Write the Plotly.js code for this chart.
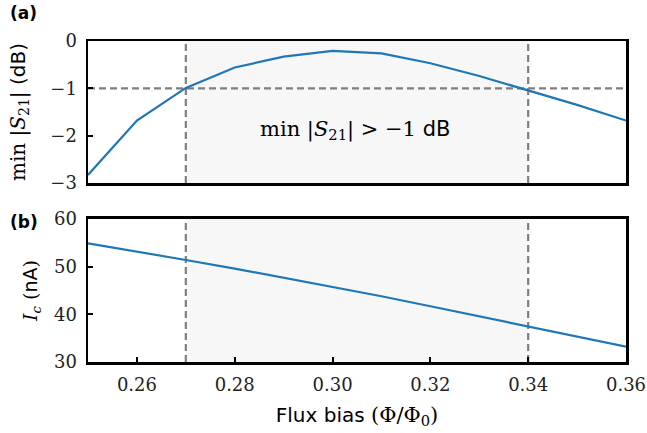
<!DOCTYPE html>
<html>
<head>
<meta charset="utf-8">
<script src="https://cdn.plot.ly/plotly-3.0.1.min.js"></script>
<style>html,body{margin:0;padding:0;background:#fff;}</style>
</head>
<body>
<div id="chart" style="width:647px;height:433px;"></div>
<script>
// Data
const fluxBias = [0.25, 0.26, 0.27, 0.28, 0.29, 0.30, 0.31, 0.32, 0.33, 0.34, 0.35, 0.36];
const minS21dB = [-2.83, -1.68, -0.99, -0.56, -0.33, -0.21, -0.26, -0.47, -0.74, -1.04, -1.35, -1.68];
const criticalCurrent = [54.9, 53.2, 51.4, 49.6, 47.7, 45.8, 43.8, 41.7, 39.6, 37.4, 35.3, 33.2];
const bandLimits = [0.27, 0.34];
const thresholdDB = -1;
const xTicks = [0.26, 0.28, 0.30, 0.32, 0.34, 0.36];
const xTickText = ['0.26', '0.28', '0.30', '0.32', '0.34', '0.36'];
const yTicksTop = [0, -1, -2, -3];
const yTicksBottom = [30, 40, 50, 60];

const SERIF = 'DejaVu Serif';
const SANS = 'DejaVu Sans';
const blue = '#1f77b4';
const dashGray = '#7f7f7f';

const traces = [
  {x: fluxBias, y: minS21dB, xaxis: 'x', yaxis: 'y', mode: 'lines',
   line: {color: blue, width: 2.2}, hoverinfo: 'skip'},
  {x: fluxBias, y: criticalCurrent, xaxis: 'x2', yaxis: 'y2', mode: 'lines',
   line: {color: blue, width: 2.2}, hoverinfo: 'skip'}
];

const dash = {color: dashGray, width: 2.2, dash: '7px,4px'};
const shapes = [
  {type: 'rect', xref: 'x', yref: 'y domain', x0: bandLimits[0], x1: bandLimits[1], y0: 0, y1: 1,
   fillcolor: '#f7f7f7', line: {width: 0}, layer: 'below'},
  {type: 'rect', xref: 'x2', yref: 'y2 domain', x0: bandLimits[0], x1: bandLimits[1], y0: 0, y1: 1,
   fillcolor: '#f7f7f7', line: {width: 0}, layer: 'below'},
  {type: 'line', xref: 'x', yref: 'y domain', x0: bandLimits[0], x1: bandLimits[0], y0: 0, y1: 1, line: dash, layer: 'below'},
  {type: 'line', xref: 'x', yref: 'y domain', x0: bandLimits[1], x1: bandLimits[1], y0: 0, y1: 1, line: dash, layer: 'below'},
  {type: 'line', xref: 'x2', yref: 'y2 domain', x0: bandLimits[0], x1: bandLimits[0], y0: 0, y1: 1, line: dash, layer: 'below'},
  {type: 'line', xref: 'x2', yref: 'y2 domain', x0: bandLimits[1], x1: bandLimits[1], y0: 0, y1: 1, line: dash, layer: 'below'},
  {type: 'line', xref: 'x domain', yref: 'y', x0: 0, x1: 1, y0: thresholdDB, y1: thresholdDB, line: dash, layer: 'below'}
];

const TICKFONT = {family: SERIF, size: 18, color: '#222'};

const layout = {
  width: 647, height: 433,
  margin: {l: 88, r: 21, t: 41, b: 71},
  paper_bgcolor: '#fff', plot_bgcolor: '#fff',
  showlegend: false,
  xaxis: {
    domain: [0, 1], range: [0.25, 0.36], anchor: 'y',
    showline: true, linecolor: '#000', linewidth: 2.5, mirror: true,
    showgrid: false, zeroline: false, ticks: '', showticklabels: false
  },
  yaxis: {
    domain: [0.5576, 1], range: [-3, 0], anchor: 'x',
    showline: true, linecolor: '#000', linewidth: 2.5, mirror: true,
    showgrid: false, zeroline: false,
    ticks: 'inside', ticklen: 5, tickwidth: 2, tickcolor: '#000',
    tickmode: 'array', tickvals: yTicksTop, tickfont: TICKFONT, ticklabelstandoff: 5,
    title: {text: 'min |<i>S</i><sub>21</sub>| <span style="font-family:DejaVu Sans">(dB)</span>',
            font: {family: SERIF, size: 20, color: '#000'}, standoff: 20}
  },
  xaxis2: {
    domain: [0, 1], range: [0.25, 0.36], anchor: 'y2',
    showline: true, linecolor: '#000', linewidth: 2.5, mirror: true,
    showgrid: false, zeroline: false,
    ticks: 'inside', ticklen: 5, tickwidth: 2, tickcolor: '#000',
    tickmode: 'array', tickvals: xTicks, ticktext: xTickText, tickfont: TICKFONT, ticklabelstandoff: 5,
    title: {text: 'Flux bias <span style="font-family:DejaVu Serif;font-size:21px">(Φ/Φ<sub>0</sub>)</span>',
            font: {family: SANS, size: 20, color: '#000'}, standoff: 14}
  },
  yaxis2: {
    domain: [0, 0.4455], range: [30, 60], anchor: 'x2',
    showline: true, linecolor: '#000', linewidth: 2.5, mirror: true,
    showgrid: false, zeroline: false,
    ticks: 'inside', ticklen: 5, tickwidth: 2, tickcolor: '#000',
    tickmode: 'array', tickvals: yTicksBottom, tickfont: TICKFONT, ticklabelstandoff: 5,
    title: {text: '<i>I<sub>c</sub></i> (<span style="font-family:DejaVu Sans">nA</span>)',
            font: {family: SERIF, size: 19, color: '#000'}, standoff: 12}
  },
  shapes: shapes,
  annotations: [
    {xref: 'x', yref: 'y', x: 0.3045, y: -1.88, showarrow: false,
     text: 'min |<i>S</i><sub>21</sub>| > −1 <span style="font-family:DejaVu Sans">dB</span>',
     font: {family: SERIF, size: 21, color: '#000'}},
    {xref: 'paper', yref: 'paper', x: -0.148, y: 1.087, xanchor: 'left', yanchor: 'middle', showarrow: false,
     text: '<b>(a)</b>', font: {family: SANS, size: 17, color: '#000'}},
    {xref: 'paper', yref: 'paper', x: -0.148, y: 0.436, xanchor: 'left', yanchor: 'middle', showarrow: false,
     text: '<b>(b)</b>', font: {family: SANS, size: 17, color: '#000'}}
  ]
};

Plotly.newPlot('chart', traces, layout, {displayModeBar: false, staticPlot: true});
</script>
</body>
</html>
